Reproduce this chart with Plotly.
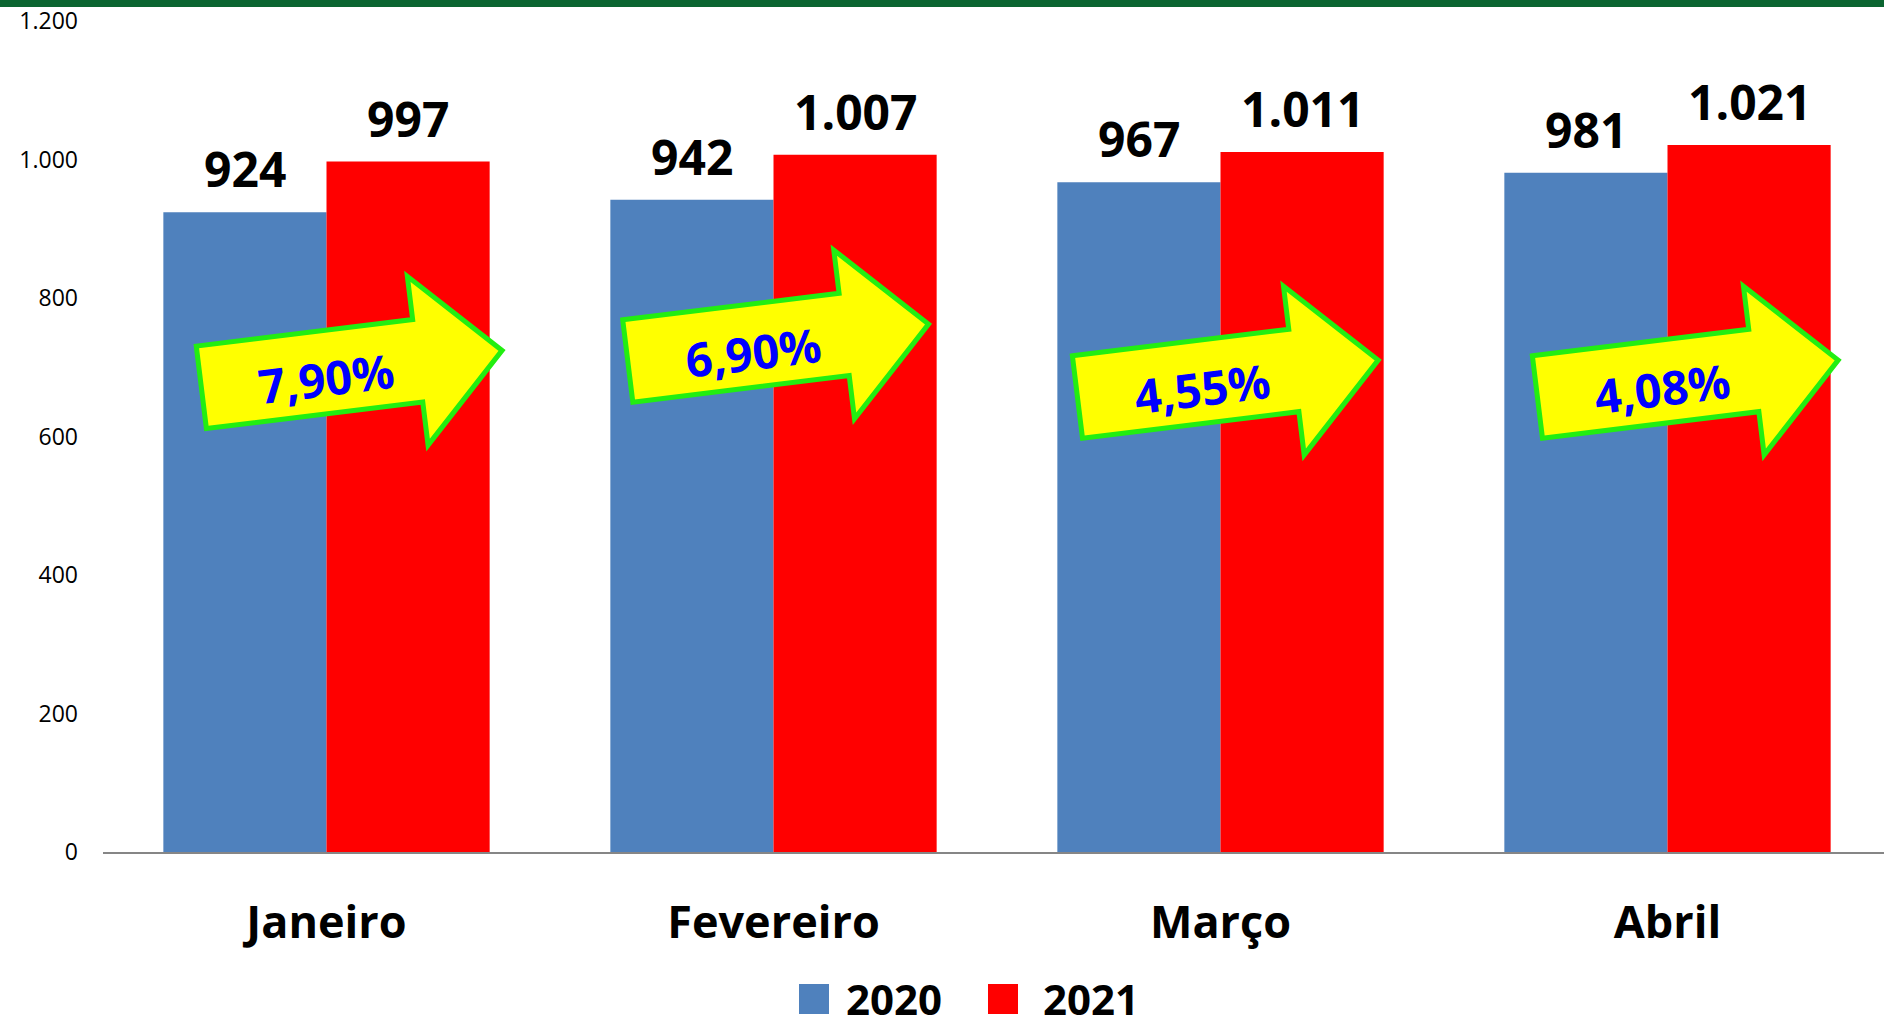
import math

import plotly.graph_objects as go

BLUE = "#4f81bd"
RED = "#ff0000"
YELLOW = "#ffff00"
ARROW_LINE = "#22ee11"
ARROW_TEXT = "#0000ff"
TOP_BAND = "#0b6531"
FONT = "Open Sans, Noto Sans, sans-serif"

# data
months = ["Janeiro", "Fevereiro", "Março", "Abril"]
series_names = ["2020", "2021"]
values_2020 = [924, 942, 967, 981]
values_2021 = [997, 1007, 1011, 1021]
growth_pct = [7.90, 6.90, 4.55, 4.08]
y_ticks = [0, 200, 400, 600, 800, 1000, 1200]

# layout geometry (pixels)
W, H = 1884, 1027
M_L, M_R, M_T, M_B = 103, 0, 21, 175
PLOT_W = W - M_L - M_R
PLOT_H = H - M_T - M_B
CAT_PX = 447  # width of one month slot
X_RANGE = [-0.5, -0.5 + PLOT_W / CAT_PX]
Y_RANGE = [0, 1200]
PX_X = CAT_PX
PX_Y = PLOT_H / (Y_RANGE[1] - Y_RANGE[0])
BARGAP = 0.27
HALF = (1 - BARGAP) / 4  # offset of each bar centre from the category centre

# arrow: tail centre (offset from category, y value), outline in local px
arrow_anchor = [(-0.280, 671), (-0.326, 709), (-0.320, 657), (-0.291, 657)]
ARROW_ANGLE = math.radians(7)
ARROW_PTS = [(0, 41.5), (218, 41.5), (218, 85), (303, 0),
             (218, -85), (218, -41.5), (0, -41.5)]
TEXT_UV = (125, -6)


def fmt_int(v):
    return f"{v:,}".replace(",", ".")


def local_to_data(cx, cy, u, v):
    sx = u * math.cos(ARROW_ANGLE) - v * math.sin(ARROW_ANGLE)
    sy = u * math.sin(ARROW_ANGLE) + v * math.cos(ARROW_ANGLE)
    return cx + sx / PX_X, cy + sy / PX_Y


fig = go.Figure()
x_idx = list(range(len(months)))
fig.add_trace(go.Bar(x=x_idx, y=values_2020, name=series_names[0],
                     marker=dict(color=BLUE, line_width=0), showlegend=False))
fig.add_trace(go.Bar(x=x_idx, y=values_2021, name=series_names[1],
                     marker=dict(color=RED, line_width=0), showlegend=False))

annotations = []
for i, (a, b) in enumerate(zip(values_2020, values_2021)):
    for xc, val in ((i - HALF, a), (i + HALF, b)):
        annotations.append(dict(
            x=xc, y=val, xref="x", yref="y", text=fmt_int(val), showarrow=False,
            yanchor="bottom", yshift=9,
            font=dict(family=FONT, size=48, color="black", weight="bold"),
        ))

shapes = []
for i, ((dx, cy), pct) in enumerate(zip(arrow_anchor, growth_pct)):
    cx = i + dx
    pts = [local_to_data(cx, cy, u, v) for u, v in ARROW_PTS]
    path = "M " + " L ".join(f"{px:.5f},{py:.3f}" for px, py in pts) + " Z"
    shapes.append(dict(type="path", path=path, xref="x", yref="y",
                       fillcolor=YELLOW, line=dict(color=ARROW_LINE, width=5), layer="above"))
    tx, ty = local_to_data(cx, cy, *TEXT_UV)
    annotations.append(dict(
        x=tx, y=ty, xref="x", yref="y", text=f"{pct:.2f}%".replace(".", ","),
        showarrow=False, textangle=-7,
        font=dict(family=FONT, size=47, color=ARROW_TEXT, weight="bold"),
    ))

# green band at the very top
shapes.append(dict(type="rect", xref="paper", yref="paper", x0=-0.1, x1=1.1,
                   ysizemode="pixel", yanchor=1, y0=14, y1=24,
                   fillcolor=TOP_BAND, line_width=0, layer="above"))

# legend built by hand so the swatches can be large
leg_x = (968 - M_L) / PLOT_W
leg_y = -(998 - (M_T + PLOT_H)) / PLOT_H
for name, color, sq0, tx0 in ((series_names[0], BLUE, -169, -124), (series_names[1], RED, 20, 73)):
    shapes.append(dict(type="rect", xref="paper", yref="paper",
                       xsizemode="pixel", xanchor=leg_x, x0=sq0, x1=sq0 + 30,
                       ysizemode="pixel", yanchor=leg_y, y0=-16, y1=14,
                       fillcolor=color, line_width=0))
    annotations.append(dict(
        x=leg_x, y=leg_y, xref="paper", yref="paper", xshift=tx0, text=name,
        showarrow=False, xanchor="left", yanchor="middle",
        font=dict(family=FONT, size=42, color="black", weight="bold"),
    ))

fig.update_layout(
    width=W, height=H,
    margin=dict(l=M_L, r=M_R, t=M_T, b=M_B, autoexpand=False),
    paper_bgcolor="white", plot_bgcolor="white",
    barmode="group", bargap=BARGAP, bargroupgap=0,
    separators=",.",
    font=dict(family=FONT, color="black"),
    shapes=shapes, annotations=annotations,
)
fig.update_xaxes(
    range=X_RANGE, tickmode="array", tickvals=x_idx, ticktext=months,
    showgrid=False, zeroline=False, showline=True, linecolor="#868686", linewidth=2,
    ticks="", ticklabelstandoff=30,
    tickfont=dict(family=FONT, size=45, color="black", weight="bold"),
)
fig.update_yaxes(
    range=Y_RANGE, tickmode="array", tickvals=y_ticks, tickformat=",d",
    showgrid=False, zeroline=False, showline=False, ticks="", ticklabelstandoff=24,
    tickfont=dict(family=FONT, size=23, color="black"),
)

# drop the page's default body margin so the figure sits at the window corner
fig.write_html("out.html", config={"displayModeBar": False},
               post_script="document.body.style.margin = '0';")
